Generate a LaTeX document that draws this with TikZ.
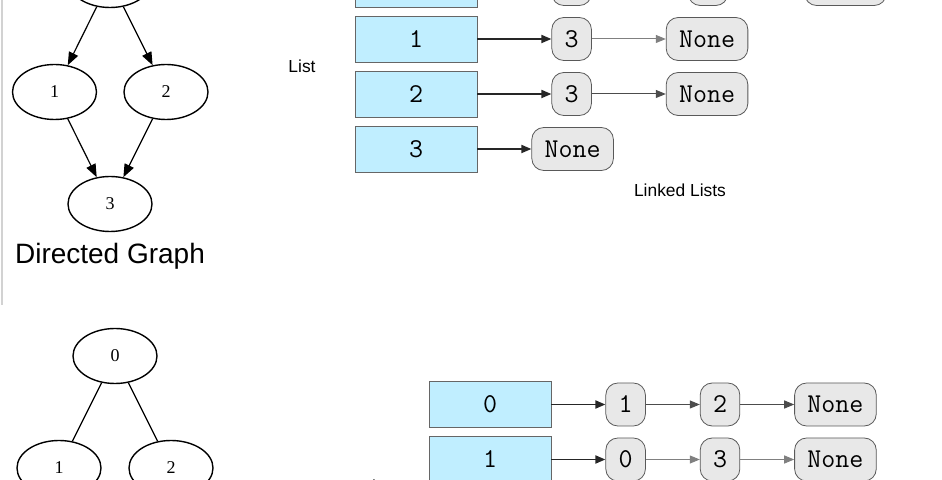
\documentclass[tikz,border=0pt]{standalone}
\usepackage{fontspec}
\setmainfont{Liberation Serif}
\setsansfont{Liberation Sans}
\usetikzlibrary{shapes,arrows.meta,positioning}
\definecolor{lblue}{HTML}{C0EEFF}
\definecolor{cellgray}{HTML}{E8E8E8}
\tikzset{
  lb/.style={rectangle,draw=black!60,fill=lblue,minimum width=61pt,minimum height=23pt,inner sep=0pt,font=\fontsize{13.6}{15}\ttfamily},
  cell/.style={rectangle,draw=black!65,fill=cellgray,rounded corners=6pt,minimum height=21.5pt,inner xsep=6.4pt,inner ysep=0pt,font=\fontsize{13.6}{15}\ttfamily},
  v/.style={ellipse,draw,line width=0.7pt,minimum width=42pt,minimum height=27.5pt,inner sep=0pt,font=\fontsize{9}{10}\selectfont},
  arr/.style={-{Triangle[length=5pt,width=4pt]},line width=0.9pt,black!85},
  narr/.style={-{Triangle[length=5pt,width=4pt]},line width=0.5pt,black!70},
  garr/.style={-{Triangle[length=6.5pt,width=5pt]},line width=0.6pt},
  lbl/.style={font=\sffamily\fontsize{8.7}{10}\selectfont},
}
\begin{document}
\begin{tikzpicture}[x=0.5pt,y=-0.5pt]
  \useasboundingbox (0,0) rectangle (942,480);
  \clip (0,0) rectangle (942,480);
  \draw[gray!35,line width=1pt] (1.5,0) -- (1.5,305);
  % directed graph
  \node[v] (d0) at (110,-20) {0};
  \node[v] (d1) at (54.5,92) {1};
  \node[v] (d2) at (166,92) {2};
  \node[v] (d3) at (110,204) {3};
  \draw[garr] (d0) -- (d1); \draw[garr] (d0) -- (d2);
  \draw[garr] (d1) -- (d3); \draw[garr] (d2) -- (d3);
  \node[font=\sffamily\fontsize{14}{16}\selectfont] (dt) at (110,256) {Directed Graph};
  % adjacency lists (directed)
  \node[lbl] (dl) at (302,66) {List};
  \node[lb] (b0) at (416,-16) {0};
  \node[lb] (b1) at (416,39) {1};
  \node[lb] (b2) at (416,94) {2};
  \node[lb] (b3) at (416,149) {3};
  \node[cell,right=37pt of b0] (c01) {1};
  \node[cell,right=48pt of c01] (c02) {2};
  \node[cell,right=38pt of c02] (c03) {None};
  \node[cell,right=37pt of b1] (c11) {3};
  \node[cell,right=37pt of c11] (c12) {None};
  \node[cell,right=37pt of b2] (c21) {3};
  \node[cell,right=37pt of c21] (c22) {None};
  \node[cell,right=27pt of b3] (c31) {None};
  \draw[arr] (b0) -- (c01); \draw[narr] (c01) -- (c02); \draw[narr] (c02) -- (c03);
  \draw[arr] (b1) -- (c11); \draw[narr,black!50] (c11) -- (c12);
  \draw[arr] (b2) -- (c21); \draw[narr] (c21) -- (c22);
  \draw[arr] (b3) -- (c31);
  \node[lbl] (dll) at (680,190) {Linked Lists};
  % undirected graph
  \node[v] (u0) at (115,356) {0};
  \node[v] (u1) at (59,468) {1};
  \node[v] (u2) at (171,468) {2};
  \draw[line width=0.6pt] (u0) -- (u1); \draw[line width=0.6pt] (u0) -- (u2);
  % adjacency lists (undirected)
  \node[lbl] (ul) at (376,486) {List};
  \node[lb] (e0) at (490,404.5) {0};
  \node[lb] (e1) at (490,459.5) {1};
  \node[cell,right=27pt of e0] (f01) {1};
  \node[cell,right=27pt of f01] (f02) {2};
  \node[cell,right=27pt of f02] (f03) {None};
  \node[cell,right=27pt of e1] (f11) {0};
  \node[cell,right=27pt of f11] (f12) {3};
  \node[cell,right=27pt of f12] (f13) {None};
  \draw[arr] (e0) -- (f01); \draw[narr] (f01) -- (f02); \draw[narr] (f02) -- (f03);
  \draw[arr] (e1) -- (f11); \draw[narr,black!50] (f11) -- (f12); \draw[narr,black!50] (f12) -- (f13);
\end{tikzpicture}
\end{document}
